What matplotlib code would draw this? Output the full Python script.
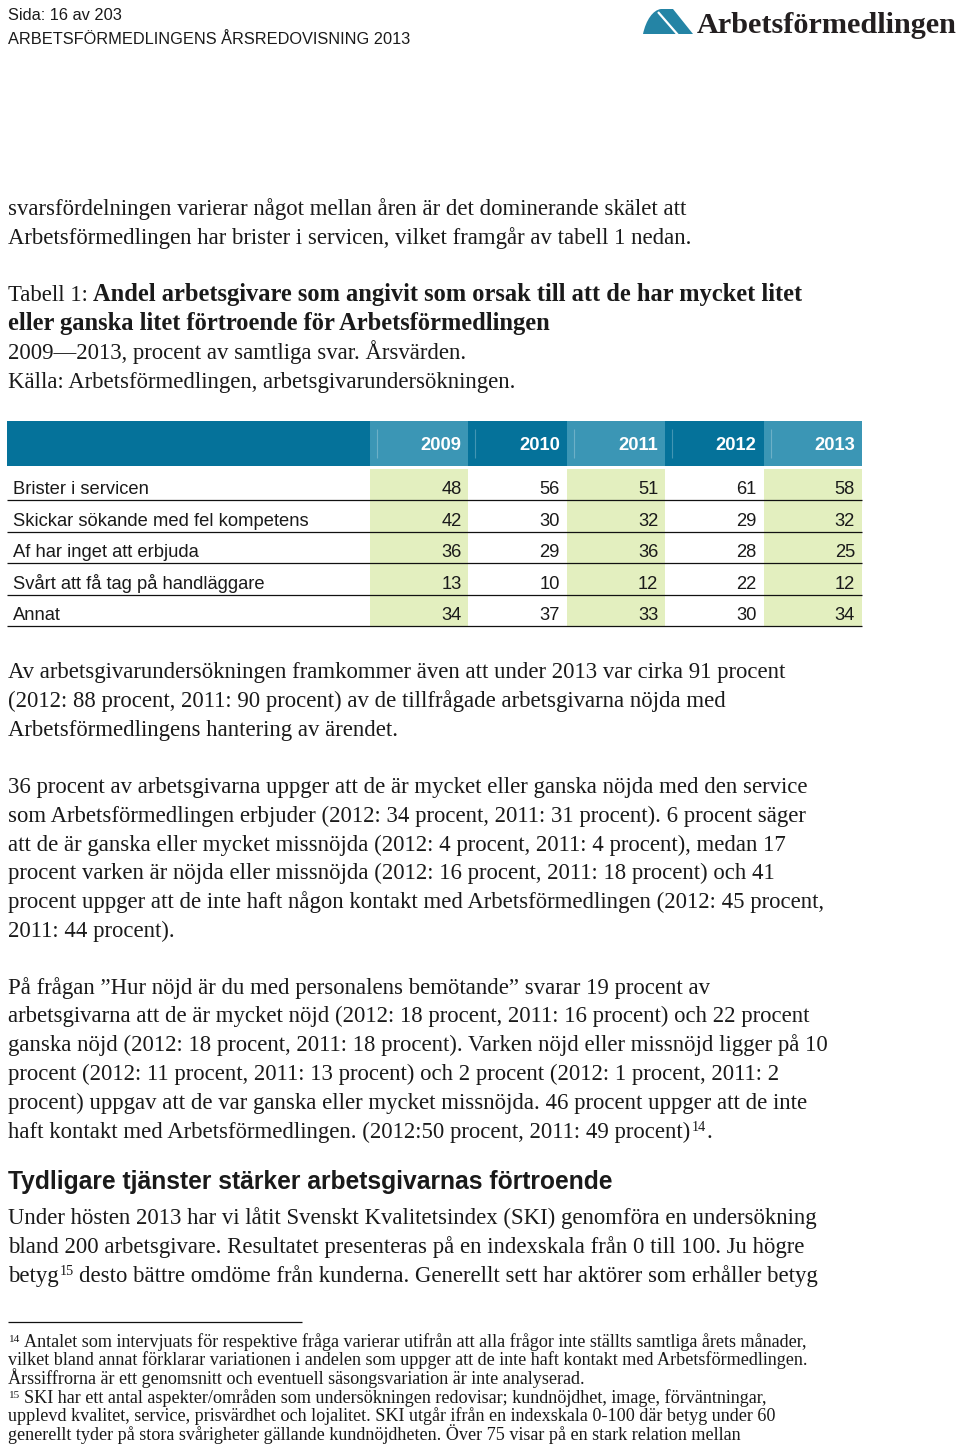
import matplotlib
matplotlib.use('Agg')
import matplotlib.pyplot as plt
from matplotlib.path import Path
from matplotlib.patches import PathPatch
from matplotlib import font_manager

# ---------------- data ----------------
years = ['2009', '2010', '2011', '2012', '2013']
categories = ['Brister i servicen',
              'Skickar sökande med fel kompetens',
              'Af har inget att erbjuda',
              'Svårt att få tag på handläggare',
              'Annat']
v2009 = [48, 42, 36, 13, 34]
v2010 = [56, 30, 29, 10, 37]
v2011 = [51, 32, 36, 12, 33]
v2012 = [61, 29, 28, 22, 30]
v2013 = [58, 32, 25, 12, 34]
values_by_year = [v2009, v2010, v2011, v2012, v2013]

page_header = ['Sida: 16 av 203', 'ARBETSFÖRMEDLINGENS ÅRSREDOVISNING 2013']
logo_text = 'Arbetsförmedlingen'

para1 = ['svarsfördelningen varierar något mellan åren är det dominerande skälet att',
         'Arbetsförmedlingen har brister i servicen, vilket framgår av tabell 1 nedan.']
caption_prefix = 'Tabell 1:'
caption_bold = ['Andel arbetsgivare som angivit som orsak till att de har mycket litet',
                'eller ganska litet förtroende för Arbetsförmedlingen']
caption_sub = ['2009\u20142013, procent av samtliga svar. Årsvärden.',
               'Källa: Arbetsförmedlingen, arbetsgivarundersökningen.']
para2 = ['Av arbetsgivarundersökningen framkommer även att under 2013 var cirka 91 procent',
         '(2012: 88 procent, 2011: 90 procent) av de tillfrågade arbetsgivarna nöjda med',
         'Arbetsförmedlingens hantering av ärendet.']
para3 = ['36 procent av arbetsgivarna uppger att de är mycket eller ganska nöjda med den service',
         'som Arbetsförmedlingen erbjuder (2012: 34 procent, 2011: 31 procent). 6 procent säger',
         'att de är ganska eller mycket missnöjda (2012: 4 procent, 2011: 4 procent), medan 17',
         'procent varken är nöjda eller missnöjda (2012: 16 procent, 2011: 18 procent) och 41',
         'procent uppger att de inte haft någon kontakt med Arbetsförmedlingen (2012: 45 procent,',
         '2011: 44 procent).']
para4 = ['På frågan \u201dHur nöjd är du med personalens bemötande\u201d svarar 19 procent av',
         'arbetsgivarna att de är mycket nöjd (2012: 18 procent, 2011: 16 procent) och 22 procent',
         'ganska nöjd (2012: 18 procent, 2011: 18 procent). Varken nöjd eller missnöjd ligger på 10',
         'procent (2012: 11 procent, 2011: 13 procent) och 2 procent (2012: 1 procent, 2011: 2',
         'procent) uppgav att de var ganska eller mycket missnöjda. 46 procent uppger att de inte',
         'haft kontakt med Arbetsförmedlingen. (2012:50 procent, 2011: 49 procent)']
heading = 'Tydligare tjänster stärker arbetsgivarnas förtroende'
para5 = ['Under hösten 2013 har vi låtit Svenskt Kvalitetsindex (SKI) genomföra en undersökning',
         'bland 200 arbetsgivare. Resultatet presenteras på en indexskala från 0 till 100. Ju högre',
         'betyg',
         'desto bättre omdöme från kunderna. Generellt sett har aktörer som erhåller betyg']
footnotes = ['Antalet som intervjuats för respektive fråga varierar utifrån att alla frågor inte ställts samtliga årets månader,',
             'vilket bland annat förklarar variationen i andelen som uppger att de inte haft kontakt med Arbetsförmedlingen.',
             'Årssiffrorna är ett genomsnitt och eventuell säsongsvariation är inte analyserad.',
             'SKI har ett antal aspekter/områden som undersökningen redovisar; kundnöjdhet, image, förväntningar,',
             'upplevd kvalitet, service, prisvärdhet och lojalitet. SKI utgår ifrån en indexskala 0-100 där betyg under 60',
             'generellt tyder på stora svårigheter gällande kundnöjdheten. Över 75 visar på en stark relation mellan']

# ---------------- styles ----------------
names = {f.name for f in font_manager.fontManager.ttflist}
SANS = 'Liberation Sans Narrow' if 'Liberation Sans Narrow' in names else 'Liberation Sans'
SANS_W = 'Liberation Sans'
SERIF = 'Liberation Serif'
INK = '#1a1a1a'
TEAL_DARK = '#05729a'
TEAL_LIGHT = '#3b96b5'
GREEN = '#e3efbf'
LOGO = '#2484a5'

fig = plt.figure(figsize=(9.6, 14.48), dpi=100)
ax = fig.add_axes([0, 0, 1, 1])
ax.set_xlim(0, 960)
ax.set_ylim(1448, 0)
ax.axis('off')
renderer = fig.canvas.get_renderer()


def width_px(s, size, **kw):
    t = ax.text(0, 0, s, fontsize=size, **kw)
    w = t.get_window_extent(renderer).width
    t.remove()
    return w


def fit(s, target, **kw):
    return 20 * target / width_px(s, 20, **kw)


def draw_runs(x, y, parts):
    for s, kw in parts:
        kw = dict(kw)
        dy = kw.pop('dy', 0)
        lead = kw.pop('lead', 0)
        x += lead
        t = ax.text(x, y + dy, s, va='baseline', ha='left', **kw)
        x += t.get_window_extent(renderer).width
    return x


# font sizes fitted to reference widths
body_kw = dict(family=SERIF, color=INK)
fs_body = fit(para1[0], 677, **body_kw)
fs_bold = min(fit(caption_bold[1], 547, family=SERIF, weight='bold'), fs_body * 1.08)
fs_head = fit(page_header[1], 402, family=SANS, color=INK)
fs_h2 = fit(heading, 603, family=SANS, weight='bold')
fs_foot = fit(footnotes[0], 786, family=SERIF)
fs_tab = fit(categories[1], 296, family=SANS)
fs_year = fit(years[0], 41, family=SANS, weight='bold')
fs_logo = fit(logo_text, 260, family=SERIF, weight='bold')

# ---------------- page header ----------------
ax.text(8, 20, page_header[0], fontsize=fs_head, family=SANS, color=INK, va='baseline')
ax.text(8, 44, page_header[1], fontsize=fs_head, family=SANS, color=INK, va='baseline')

# logo mark
verts = [(643, 34), (646, 20), (653, 10), (661, 9),
         (673, 9), (693, 34), (643, 34)]
codes = [Path.MOVETO, Path.CURVE4, Path.CURVE4, Path.CURVE4,
         Path.LINETO, Path.LINETO, Path.CLOSEPOLY]
ax.add_patch(PathPatch(Path(verts, codes), facecolor=LOGO, edgecolor='none'))
ax.plot([658, 678], [12, 35], color='white', lw=1.6, solid_capstyle='butt')
ax.text(697, 33, logo_text, fontsize=fs_logo, family=SERIF, weight='bold',
        color='#231f20', va='baseline')


def para(lines, baselines, size=None, **kw):
    for s, y in zip(lines, baselines):
        ax.text(8, y, s, fontsize=size or fs_body, va='baseline', **(kw or body_kw))


para(para1, [215, 244])
gap = fs_body * 0.3
draw_runs(8, 301, [(caption_prefix, dict(fontsize=fs_body, **body_kw)),
                   (caption_bold[0], dict(fontsize=fs_bold, family=SERIF, weight='bold',
                                          color=INK, lead=gap))])
ax.text(8, 330, caption_bold[1], fontsize=fs_bold, family=SERIF, weight='bold',
        color=INK, va='baseline')
para(caption_sub, [359, 388])

# ---------------- table ----------------
x0, x1 = 7, 862
label_w = 363
ncol = len(years)
col_w = (x1 - x0 - label_w) / ncol
head_top, head_h = 421, 45
body_top = 469
nrow = len(categories)
row_h = (626 - body_top) / nrow
col_centers = [x0 + label_w + (i + 0.5) * col_w for i in range(ncol)]
col_colors = [TEAL_LIGHT if i % 2 == 0 else TEAL_DARK for i in range(ncol)]

ax.bar([x0 + label_w / 2], [head_h], bottom=head_top, width=label_w,
       color=TEAL_DARK, linewidth=0)
ax.bar(col_centers, [head_h] * ncol, bottom=head_top, width=col_w,
       color=col_colors, linewidth=0)
green_idx = [i for i in range(ncol) if i % 2 == 0]
ax.bar([col_centers[i] for i in green_idx], [nrow * row_h] * len(green_idx),
       bottom=body_top, width=col_w, color=GREEN, linewidth=0)
# faint separators in header
for c in col_centers:
    ax.vlines(c - col_w / 2 + 7, head_top + 8, head_top + head_h - 8,
              color='white', alpha=0.25, lw=0.8)

for i, yr in enumerate(years):
    ax.text(col_centers[i] + col_w / 2 - 7, head_top + 29, yr, fontsize=fs_year,
            family=SANS, weight='bold', color='white', ha='right', va='baseline')

row_bottoms = [body_top + (r + 1) * row_h for r in range(nrow)]
ax.hlines(row_bottoms, x0, x1, color='#111111', lw=0.9)
for r, cat in enumerate(categories):
    yb = row_bottoms[r] - 6
    ax.text(x0 + 6, yb, cat, fontsize=fs_tab, family=SANS, color=INK, va='baseline')
    for i in range(ncol):
        ax.text(col_centers[i] + col_w / 2 - 7, yb, str(values_by_year[i][r]),
                fontsize=fs_tab, family=SANS, color=INK, ha='right', va='baseline')

# ---------------- text after table ----------------
para(para2, [678, 707, 736])
para(para3, [793, 822, 851, 879, 908, 937])
para(para4[:-1], [994, 1022, 1051, 1080, 1109])
draw_runs(8, 1138, [(para4[-1], dict(fontsize=fs_body, **body_kw)),
                    ('14', dict(fontsize=fs_body * 0.62, dy=-7, lead=2, **body_kw)),
                    ('.', dict(fontsize=fs_body, **body_kw))])

ax.text(8, 1189, heading, fontsize=fs_h2, family=SANS, weight='bold', color=INK, va='baseline')

para(para5[:2], [1224, 1253])
draw_runs(8, 1282, [(para5[2], dict(fontsize=fs_body, **body_kw)),
                    ('15', dict(fontsize=fs_body * 0.62, dy=-7, lead=1, **body_kw)),
                    (para5[3], dict(fontsize=fs_body, lead=fs_body * 0.3, **body_kw))])

# footnotes
ax.hlines([1322], 8, 302, color='#111111', lw=0.9)
foot_base = [1347, 1365, 1384, 1403, 1421, 1440]
foot_kw = dict(family=SERIF, color=INK)
for j, (s, y) in enumerate(zip(footnotes, foot_base)):
    if j == 0 or j == 3:
        num = '14' if j == 0 else '15'
        draw_runs(8, y, [(num, dict(fontsize=fs_foot * 0.62, dy=-5, **foot_kw)),
                         (s, dict(fontsize=fs_foot, lead=fs_foot * 0.35, **foot_kw))])
    else:
        ax.text(8, y, s, fontsize=fs_foot, va='baseline', **foot_kw)

fig.savefig('out.png', dpi=100, facecolor='white')
